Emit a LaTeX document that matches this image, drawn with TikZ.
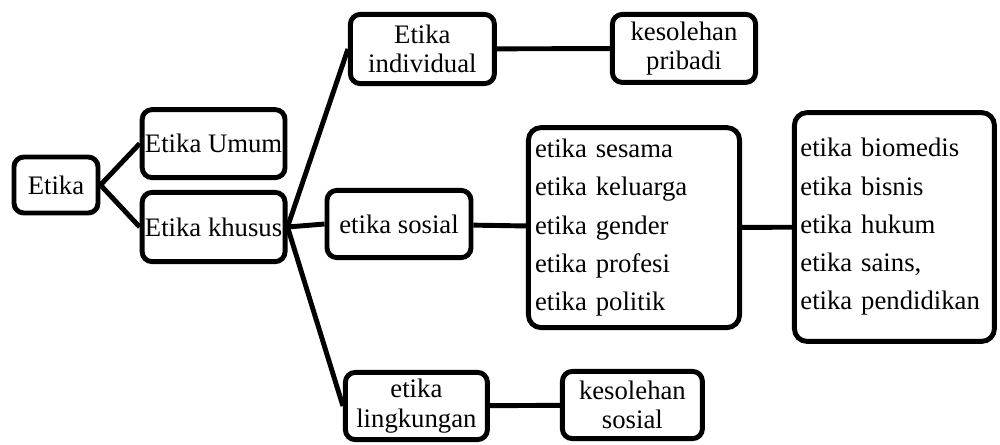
\documentclass[tikz,border=0pt]{standalone}
\usepackage{fontspec}
\setmainfont{Liberation Serif}
\usepackage{tikz}

\begin{document}
\begin{tikzpicture}[
    box/.style={draw, line width=3.5pt, rounded corners=7pt, align=center,
        inner sep=2pt, font=\fontsize{19}{21}\selectfont},
    listbox/.style={draw, line width=3.5pt, rounded corners=9pt, align=left,
        inner sep=0pt, font=\fontsize{19}{27.2}\selectfont},
    link/.style={line width=3.5pt}
]
    % Fix the size of the page
    \useasboundingbox (0,0) rectangle (25,-11.1);

    % Draw the first level
    \node[box, minimum width=2.1cm, minimum height=1.4cm] (etika) at (1.4,-4.625) {Etika};
    \node[box, minimum width=3.55cm, minimum height=1.7cm] (umum) at (5.34,-3.59) {Etika Umum};
    \node[box, minimum width=3.55cm, minimum height=1.73cm] (khusus) at (5.34,-5.675) {Etika khusus};

    % Draw the branches of Etika khusus
    \node[box, minimum width=3.6cm, minimum height=1.73cm] (individual) at (10.56,-1.225) {Etika\\individual};
    \node[box, minimum width=3.6cm, minimum height=1.68cm] (sosial) at (9.975,-5.6) {etika sosial};
    \node[box, minimum width=3.55cm, minimum height=1.68cm] (lingkungan) at (10.41,-10.15) {etika\\lingkungan};

    % Draw the outcomes
    \node[box, minimum width=3.58cm, minimum height=1.7cm] (pribadi) at (17.1,-1.21) {kesolehan\\pribadi};
    \node[box, minimum width=3.5cm, minimum height=1.68cm] (kesolehan) at (15.81,-10.125) {kesolehan\\sosial};

    % Draw the two lists
    \node[listbox, text width=4.95cm, minimum width=5.28cm, minimum height=5.0cm] (sesama) at (15.85,-5.69)
        {etika sesama\\etika keluarga\\etika gender\\etika profesi\\etika politik};
    \node[listbox, text width=4.7cm, minimum width=5.0cm, minimum height=5.72cm] (terapan) at (22.36,-5.675)
        {etika biomedis\\etika bisnis\\etika hukum\\etika sains,\\etika pendidikan};

    % Draw the connectors
    \draw[link] (etika.east) -- (umum.west);
    \draw[link] (etika.east) -- (khusus.west);
    \draw[link] (khusus.east) -- (individual.west);
    \draw[link] (khusus.east) -- (sosial.west);
    \draw[link] (khusus.east) -- (lingkungan.west);
    \draw[link] (individual) -- (pribadi);
    \draw[link] (sosial) -- (sesama);
    \draw[link] (sesama) -- (terapan);
    \draw[link] (lingkungan) -- (kesolehan);
\end{tikzpicture}
\end{document}
